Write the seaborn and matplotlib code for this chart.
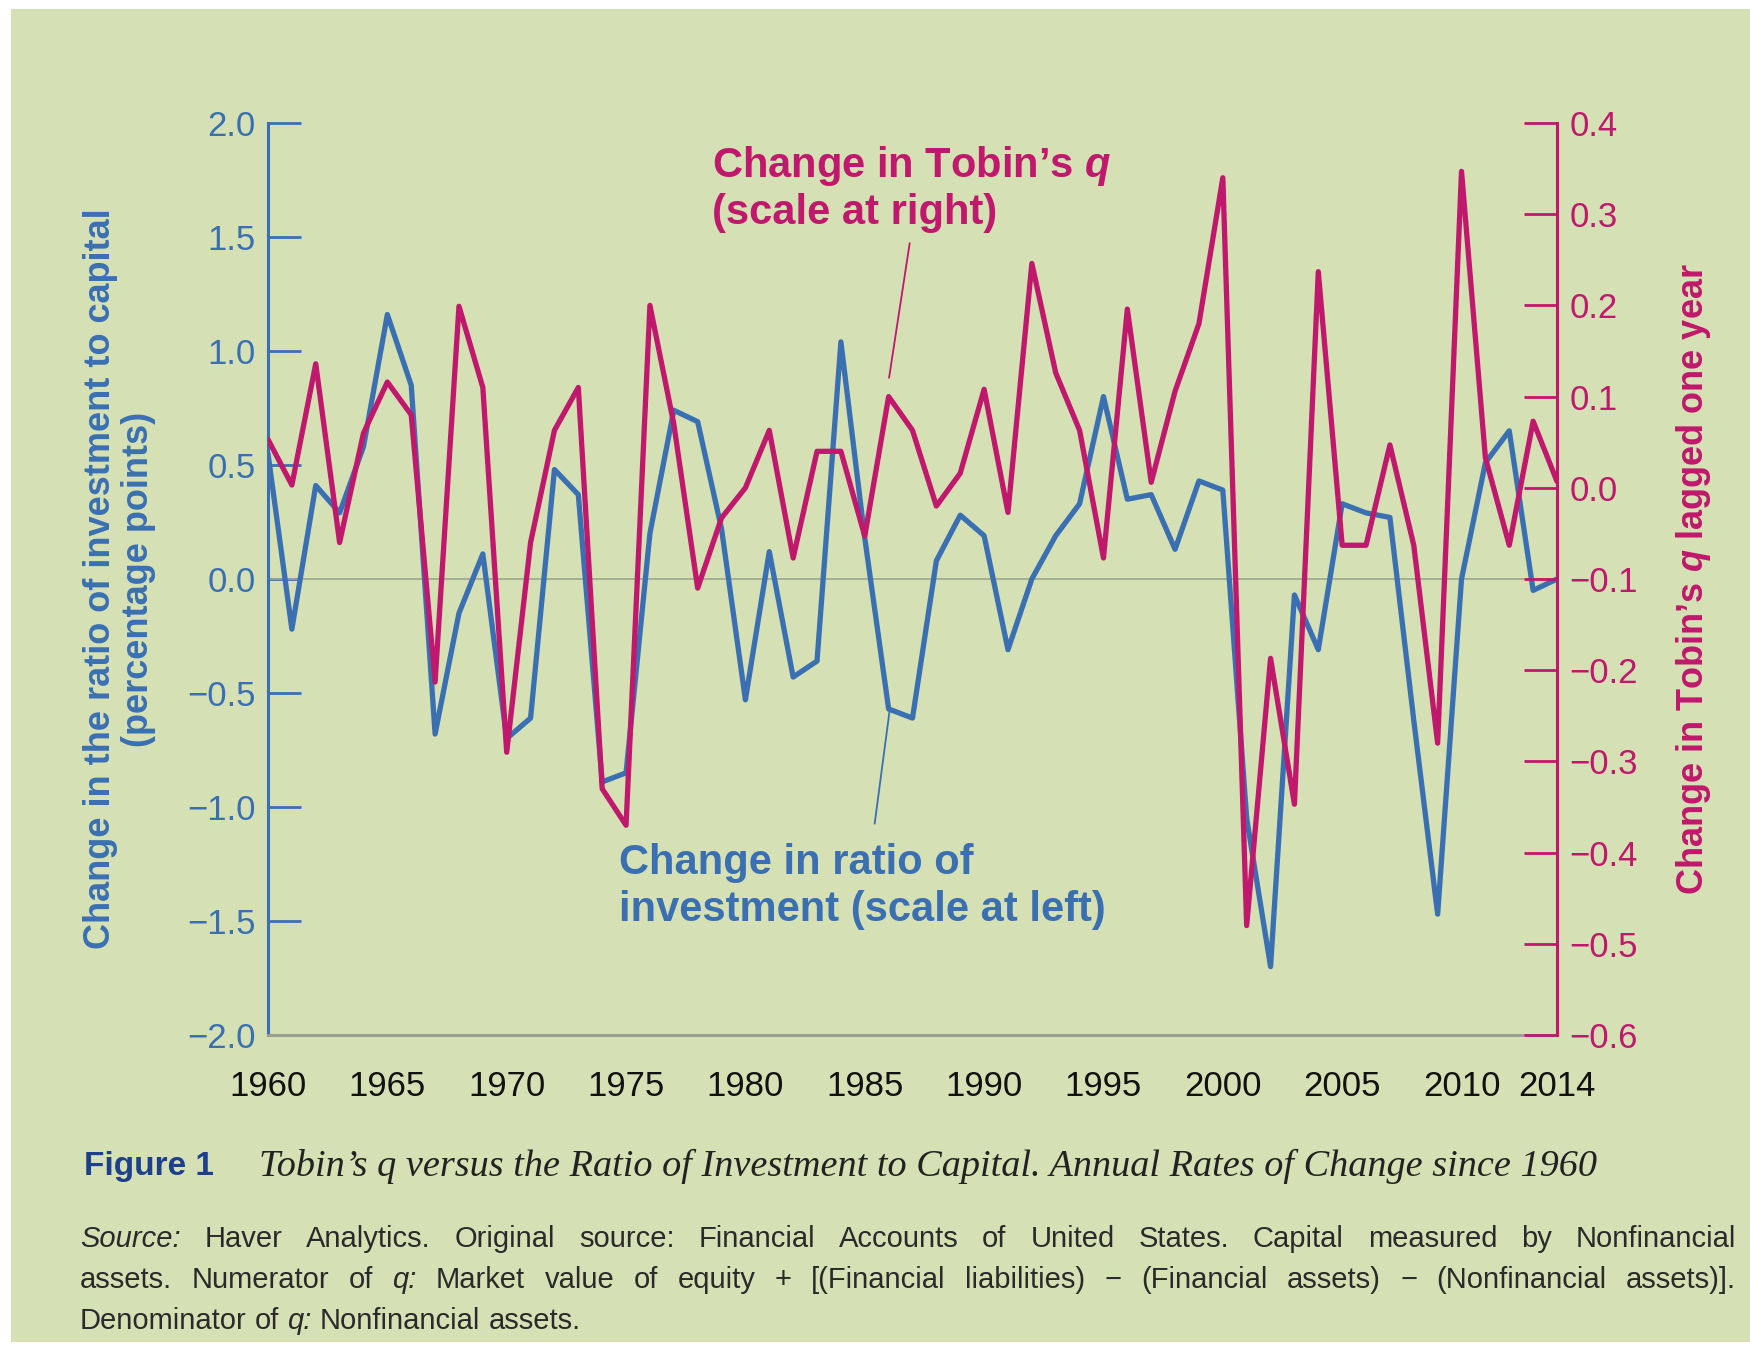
"""
Tobin's q versus the ratio of investment to capital, annual changes 1960-2014.
"""

import numpy as np
import pandas as pd
import matplotlib
matplotlib.use("Agg")
import matplotlib.pyplot as plt
from matplotlib.patches import Rectangle
import seaborn as sns

# --- data ---
years = list(range(1960, 2015))

# change in ratio of investment to capital, percentage points (left scale)
invest_change = [
    0.55, -0.22, 0.41, 0.29, 0.58, 1.16, 0.85, -0.68, -0.15, 0.11,
    -0.70, -0.61, 0.48, 0.37, -0.89, -0.85, 0.20, 0.74, 0.69, 0.22,
    -0.53, 0.12, -0.43, -0.36, 1.04, 0.18, -0.57, -0.61, 0.08, 0.28,
    0.19, -0.31, 0.00, 0.19, 0.33, 0.80, 0.35, 0.37, 0.13, 0.43,
    0.39, -1.05, -1.70, -0.07, -0.31, 0.33, 0.29, 0.27, -0.62, -1.47,
    0.00, 0.51, 0.65, -0.05, 0.00,
]

# change in Tobin's q lagged one year (right scale)
q_change = [
    0.053, 0.003, 0.136, -0.060, 0.060, 0.116, 0.080, -0.213, 0.199, 0.110,
    -0.290, -0.060, 0.063, 0.110, -0.330, -0.370, 0.200, 0.070, -0.110, -0.033,
    0.000, 0.063, -0.077, 0.040, 0.040, -0.053, 0.100, 0.063, -0.020, 0.016,
    0.108, -0.027, 0.246, 0.126, 0.063, -0.077, 0.196, 0.006, 0.106, 0.180,
    0.340, -0.480, -0.187, -0.347, 0.237, -0.063, -0.063, 0.047, -0.063, -0.280,
    0.347, 0.033, -0.063, 0.073, 0.007,
]

x_ticks = [1960, 1965, 1970, 1975, 1980, 1985, 1990, 1995, 2000, 2005, 2010, 2014]
left_ticks = [-2.0, -1.5, -1.0, -0.5, 0.0, 0.5, 1.0, 1.5, 2.0]
right_ticks = [-0.6, -0.5, -0.4, -0.3, -0.2, -0.1, 0.0, 0.1, 0.2, 0.3, 0.4]

df = pd.DataFrame({"year": years, "invest": invest_change, "q": q_change})

# --- style ---
BG = "#d6e0b5"
BLUE = "#3a70b2"
PINK = "#c0186c"
NAVY = "#1d3f8c"

sns.set_theme(style="white")
plt.rcParams["font.family"] = ["Liberation Sans", "DejaVu Sans"]
plt.rcParams["mathtext.fontset"] = "custom"
plt.rcParams["mathtext.it"] = "Liberation Sans:italic:bold"
plt.rcParams["mathtext.rm"] = "Liberation Sans:bold"
plt.rcParams["mathtext.bf"] = "Liberation Sans:bold"

fig = plt.figure(figsize=(17.5, 13.48), dpi=100, facecolor="white")
fig.patches.append(Rectangle((11 / 1750, 6 / 1348), 1 - 11 / 1750, 1 - 15 / 1348,
                             transform=fig.transFigure, facecolor=BG,
                             edgecolor="none", zorder=-10))

ax = fig.add_axes([268 / 1750, 1 - 1035 / 1348, (1557 - 268) / 1750, (1035 - 123) / 1348])
ax.set_facecolor("none")
ax2 = ax.twinx()
ax2.set_facecolor("none")

# zero line for the left scale
ax.axhline(0, color="#9ca88c", lw=1.2, zorder=1)

sns.lineplot(data=df, x="year", y="invest", ax=ax, color=BLUE, lw=3.8, zorder=3)
sns.lineplot(data=df, x="year", y="q", ax=ax2, color=PINK, lw=3.8, zorder=3)

# axes limits and ticks
ax.set_xlim(1960, 2014)
ax.set_ylim(-2.0, 2.0)
ax2.set_ylim(-0.6, 0.4)
ax.set_xticks(x_ticks)
ax.set_xticklabels([str(t) for t in x_ticks])
ax.set_yticks(left_ticks)
ax.set_yticklabels([f"{t:.1f}".replace("-", "\u2212") for t in left_ticks])
ax2.set_yticks(right_ticks)
ax2.set_yticklabels([f"{t:.1f}".replace("-", "\u2212") for t in right_ticks])

ax.tick_params(axis="x", direction="out", length=13, width=2, color="#555555",
               labelsize=25, labelcolor="#111111", pad=12)
ax.tick_params(axis="y", direction="in", length=24, width=2, color=BLUE,
               labelsize=25, labelcolor=BLUE, pad=9)
ax2.tick_params(axis="y", direction="in", length=24, width=2, color=PINK,
                labelsize=25, labelcolor=PINK, pad=9)

for a in (ax, ax2):
    a.spines["top"].set_visible(False)
ax.spines["right"].set_visible(False)
ax2.spines["left"].set_visible(False)
ax2.spines["bottom"].set_visible(False)
ax.spines["left"].set_color(BLUE)
ax.spines["left"].set_linewidth(2.2)
ax.spines["bottom"].set_color("#9aa090")
ax.spines["bottom"].set_linewidth(2.2)
ax2.spines["right"].set_color(PINK)
ax2.spines["right"].set_linewidth(2.2)

ax.set_xlabel("")
ax.set_ylabel("Change in the ratio of investment to capital\n(percentage points)",
              color=BLUE, fontsize=26, fontweight="bold", labelpad=22, linespacing=1.12)
ax2.set_ylabel("Change in Tobin\u2019s $q$ lagged one year",
               color=PINK, fontsize=26, fontweight="bold", labelpad=26)

# annotations with leader lines
i86 = years.index(1986)
ax.annotate("", xy=(1986, (q_change[i86] + 0.1) * 4 + 0.07), xytext=(1986.9, 1.485),
            arrowprops=dict(arrowstyle="-", color=PINK, lw=1.3))
ax.text(1978.6, 1.91, "Change in Tobin\u2019s $q$\n(scale at right)", color=PINK,
        fontsize=30, fontweight="bold", ha="left", va="top", linespacing=1.18)
ax.annotate("", xy=(1986.05, invest_change[i86]), xytext=(1985.4, -1.085),
            arrowprops=dict(arrowstyle="-", color=BLUE, lw=1.3))
ax.text(1974.7, -1.16, "Change in ratio of\ninvestment (scale at left)", color=BLUE,
        fontsize=30, fontweight="bold", ha="left", va="top", linespacing=1.2)

# caption
fig.text(84 / 1750, 1 - 1166 / 1348, "Figure 1", color=NAVY, fontsize=24,
         fontweight="bold", va="center", ha="left")
fig.text(259 / 1750, 1 - 1166 / 1348,
         "Tobin\u2019s q versus the Ratio of Investment to Capital. Annual Rates of Change since 1960",
         family=["Liberation Serif", "DejaVu Serif"], style="italic", fontsize=27.5,
         color="#222222", va="center", ha="left")


def justified_line(words, x0, x1, y, justify=True, size=21):
    """Draw one line of words, spread between x0 and x1 (figure fraction)."""
    texts = []
    for w, italic in words:
        texts.append(fig.text(x0, y, w, fontsize=size, color="#2a2a2a",
                              style="italic" if italic else "normal", va="center"))
    renderer = fig.canvas.get_renderer()
    widths = [t.get_window_extent(renderer).width for t in texts]
    fw = fig.bbox.width
    if justify and len(words) > 1:
        gap = ((x1 - x0) * fw - sum(widths)) / (len(words) - 1)
    else:
        gap = size * 0.28 * fig.dpi / 72
    pos = x0 * fw
    for t, w in zip(texts, widths):
        t.set_x(pos / fw)
        pos += w + gap


def split(line, italic_words=()):
    return [(w, w in italic_words) for w in line.split(" ")]


fig.canvas.draw()
x_left, x_right = 80 / 1750, 1736 / 1750
justified_line(split("Source: Haver Analytics. Original source: Financial Accounts of United "
                     "States. Capital measured by Nonfinancial", ("Source:",)),
               x_left, x_right, 1 - 1239 / 1348)
justified_line(split("assets. Numerator of q: Market value of equity + [(Financial liabilities) "
                     "\u2212 (Financial assets) \u2212 (Nonfinancial assets)].", ("q:",)),
               x_left, x_right, 1 - 1280 / 1348)
justified_line(split("Denominator of q: Nonfinancial assets.", ("q:",)),
               x_left, x_right, 1 - 1321 / 1348, justify=False)

plt.savefig("out.png", dpi=100, facecolor="white")
